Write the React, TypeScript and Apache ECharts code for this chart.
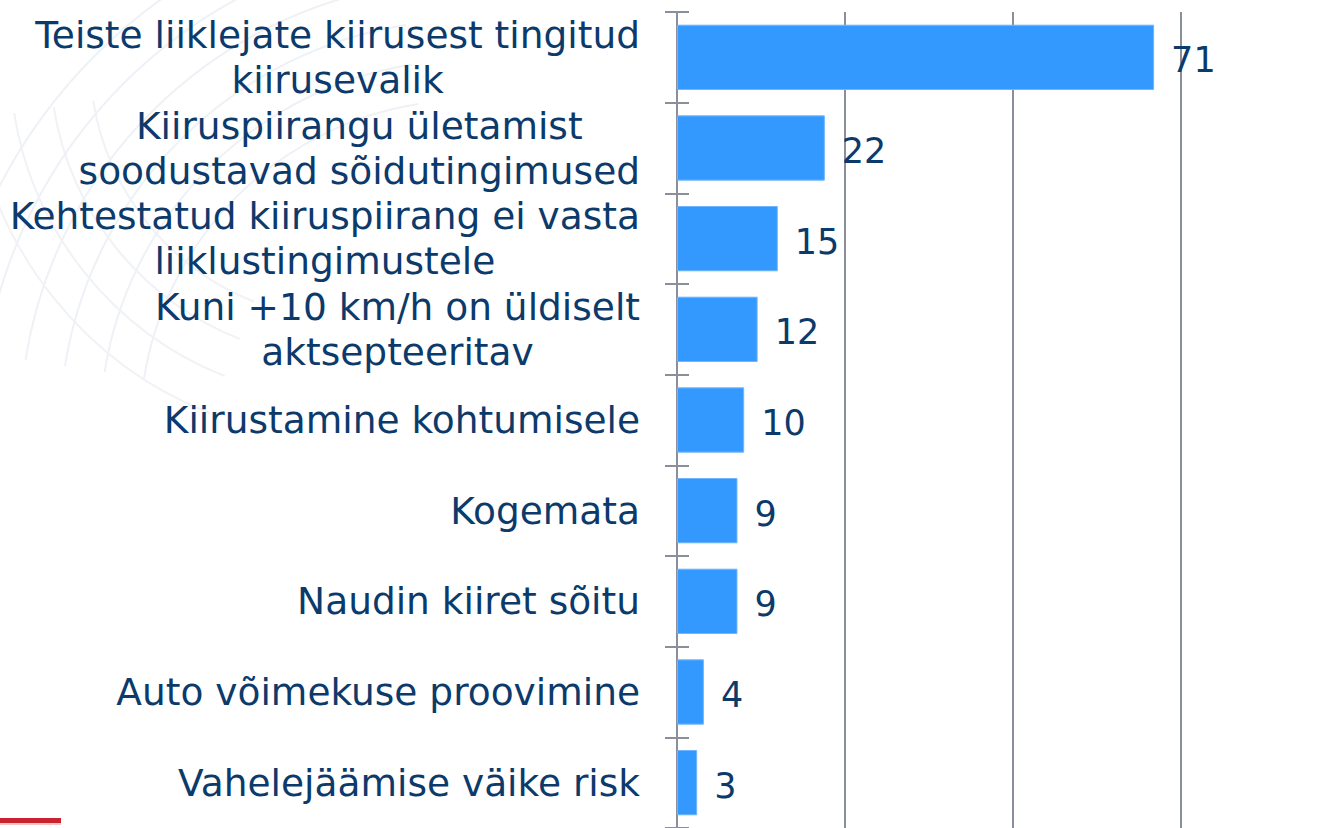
import React, { useEffect, useRef } from "react";
import * as echarts from "echarts";

const categories: string[] = [
  "Teiste liiklejate kiirusest tingitud\nkiirusevalik",
  "Kiiruspiirangu ületamist\nsoodustavad sõidutingimused",
  "Kehtestatud kiiruspiirang ei vasta\nliiklustingimustele",
  "Kuni +10 km/h on üldiselt\naktsepteeritav",
  "Kiirustamine kohtumisele",
  "Kogemata",
  "Naudin kiiret sõitu",
  "Auto võimekuse proovimine",
  "Vahelejäämise väike risk",
];
const values: number[] = [71, 22, 15, 12, 10, 9, 9, 4, 3];
const axisMax = 75;
const axisStep = 25;

const TEXT = "#0c3a6b";
const GRIDC = "#8b8e9b";
const BAR = "#3399ff";

export default function App() {
  const ref = useRef<HTMLDivElement>(null);
  useEffect(() => {
    document.body.style.margin = "0";
    const chart = echarts.init(ref.current!, undefined, { renderer: "svg" });
    const arcs: any[] = [];
    [330, 370, 410, 450, 490, 530].forEach((r) => {
      arcs.push({
        type: "arc",
        silent: true,
        z: -10,
        shape: { cx: 470, cy: 430, r, startAngle: Math.PI * 1.05, endAngle: Math.PI * 1.45 },
        style: { stroke: "#eef1f5", lineWidth: 2, fill: null },
      });
    });
    [260, 300, 340, 380].forEach((r) => {
      arcs.push({
        type: "arc",
        silent: true,
        z: -10,
        shape: { cx: 350, cy: 60, r, startAngle: Math.PI * 0.62, endAngle: Math.PI * 0.95 },
        style: { stroke: "#f0f2f6", lineWidth: 2, fill: null },
      });
    });
    const catLabel = {
      fontFamily: "DejaVu Sans",
      fontSize: 37.5,
      lineHeight: 45,
      color: TEXT,
      align: "center",
    };
    chart.setOption({
      animation: false,
      backgroundColor: "#ffffff",
      graphic: [
        ...arcs,
        {
          type: "rect",
          silent: true,
          shape: { x: 0, y: 818, width: 61, height: 5 },
          style: { fill: "#c8232f" },
        },
        {
          type: "rect",
          silent: true,
          shape: { x: 0, y: 823, width: 61, height: 2 },
          style: { fill: "#f2c5c8" },
        },
      ],
      grid: { left: 677, right: 150, top: 12, bottom: -3, containLabel: false },
      xAxis: {
        type: "value",
        min: 0,
        max: axisMax,
        interval: axisStep,
        axisLabel: { show: false },
        axisLine: { show: false },
        axisTick: { show: false },
        splitLine: { show: true, lineStyle: { color: GRIDC, width: 2 } },
      },
      yAxis: [
        {
          type: "category",
          data: categories,
          inverse: true,
          position: "left",
          axisLine: { show: true, lineStyle: { color: GRIDC, width: 2 } },
          axisTick: { show: true, length: 12, inside: false, lineStyle: { color: GRIDC, width: 2 } },
          axisLabel: {
            margin: 37,
            align: "right",
            formatter: (v: string) =>
              v
                .split("\n")
                .map((l) => "{c|" + l + "}")
                .join("\n"),
            rich: { c: catLabel },
            lineHeight: 45,
          },
        },
        {
          type: "category",
          data: categories,
          inverse: true,
          position: "left",
          axisLine: { show: false },
          axisTick: { show: true, length: 12, inside: true, lineStyle: { color: GRIDC, width: 2 } },
          axisLabel: { show: false },
        },
      ],
      series: [
        {
          type: "bar",
          yAxisIndex: 0,
          data: values,
          barCategoryGap: "28%",
          itemStyle: { color: BAR, borderColor: "#6fb4ff", borderWidth: 1 },
          label: {
            show: true,
            position: "right",
            distance: 17,
            offset: [0, 3],
            fontFamily: "DejaVu Sans",
            fontSize: 35,
            color: TEXT,
          },
          z: 1,
        },
      ],
    });
    return () => chart.dispose();
  }, []);
  return (
    <div
      ref={ref}
      style={{ position: "absolute", left: 0, top: 0, width: 1331, height: 828 }}
    />
  );
}
